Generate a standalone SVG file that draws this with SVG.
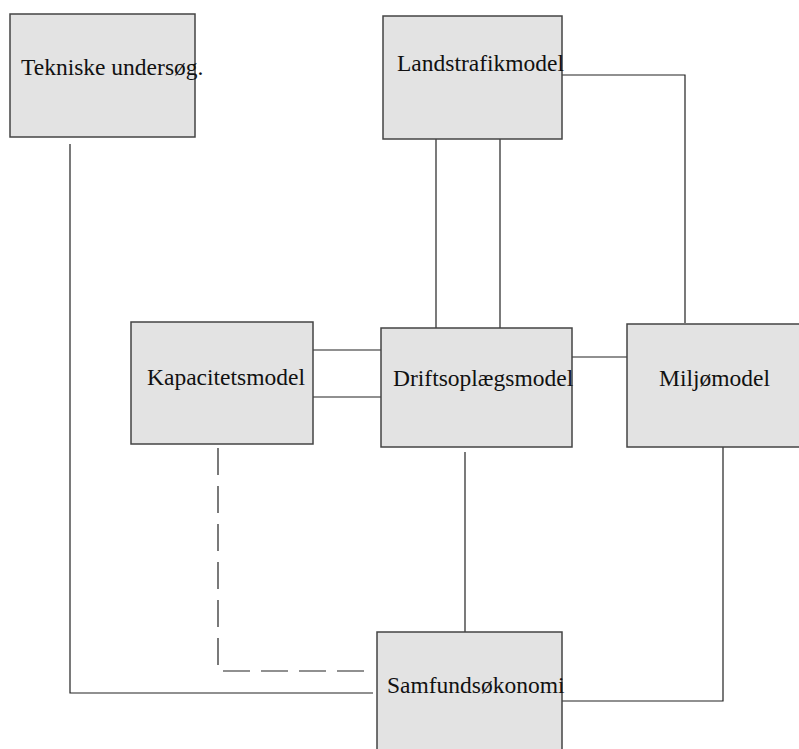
<svg xmlns="http://www.w3.org/2000/svg" width="799" height="749" viewBox="0 0 799 749">
<style>
.box{fill:#e3e3e3;stroke:#444;stroke-width:1.5}
.lbl{font-family:"Liberation Serif","Times New Roman",serif;font-size:23.5px;fill:#111}
.c{fill:none;stroke:#222;stroke-width:1.2}
.d{stroke-dasharray:27 11}
</style>
<rect width="799" height="749" fill="#fff"/>
<g id="connectors">
<polyline class="c" points="70,144 70,693 373,693"/>
<polyline class="c" points="562,75 685,75 685,323"/>
<line class="c" x1="436" y1="139" x2="436" y2="328"/>
<line class="c" x1="500" y1="139" x2="500" y2="328"/>
<line class="c" x1="313" y1="350" x2="381" y2="350"/>
<line class="c" x1="313" y1="397" x2="381" y2="397"/>
<line class="c" x1="572" y1="357" x2="627" y2="357"/>
<line class="c" x1="465" y1="452" x2="465" y2="632"/>
<polyline class="c" points="723,447 723,701 562,701"/>
<polyline class="c d" points="218,448 218,671 366,671"/>
</g>
<g id="tekniske">
<rect class="box" x="10" y="14" width="185" height="123"/>
<text class="lbl" x="21" y="75">Tekniske undersøg.</text>
</g>
<g id="landstrafikmodel">
<rect class="box" x="383" y="16" width="179" height="123"/>
<text class="lbl" x="397" y="71">Landstrafikmodel</text>
</g>
<g id="kapacitetsmodel">
<rect class="box" x="131" y="322" width="182" height="122"/>
<text class="lbl" x="147" y="385">Kapacitetsmodel</text>
</g>
<g id="driftsoplaegsmodel">
<rect class="box" x="381" y="328" width="191" height="119"/>
<text class="lbl" x="393" y="386">Driftsoplægsmodel</text>
</g>
<g id="miljomodel">
<rect class="box" x="627" y="324" width="180" height="123"/>
<text class="lbl" x="659" y="386">Miljømodel</text>
</g>
<g id="samfundsokonomi">
<rect class="box" x="377" y="632" width="185" height="130"/>
<text class="lbl" x="387" y="693">Samfundsøkonomi</text>
</g>
</svg>
